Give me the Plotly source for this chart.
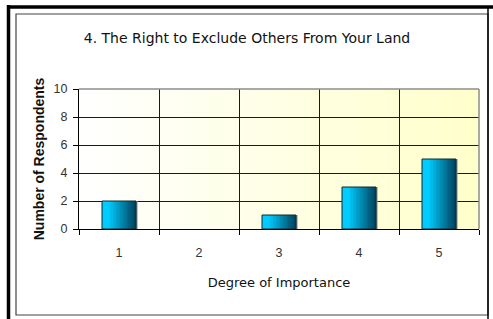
import plotly.graph_objects as go

categories = ["1", "2", "3", "4", "5"]
respondents = [2, 0, 1, 3, 5]
y_ticks = [0, 2, 4, 6, 8, 10]

title_text = "4. The Right to Exclude Others From Your Land"
x_title = "Degree of Importance"
y_title = "Number of Respondents"

W, H = 493, 319
L, R, T, B = 79, 479, 89, 229  # plot area in pixels


def px2x(px):
    return (px - L) / (R - L)


def py2y(py):
    return (B - py) / (B - T)


fig = go.Figure()

bar_vals = [v if v else None for v in respondents]

# shadow (gray, slightly offset right)
bar_w = 0.425
fig.add_trace(go.Bar(
    x=categories, y=bar_vals, width=bar_w, offset=-bar_w / 2 + 0.02,
    marker=dict(color="#9a9a9a", line=dict(width=0)),
    showlegend=False, hoverinfo="skip",
))

# bar with horizontal gradient built from thin overlaid slices
N = 24
sw = bar_w / N
c0 = (0, 204, 255)
c1 = (0, 66, 92)
for i in range(N):
    t = (i + 0.5) / N
    if t < 0.2:
        c = c0
    else:
        f = (t - 0.2) / 0.8
        c = tuple(round(c0[k] + (c1[k] - c0[k]) * f) for k in range(3))
    fig.add_trace(go.Bar(
        x=categories, y=bar_vals,
        width=sw * 1.15, offset=-bar_w / 2 + i * sw,
        marker=dict(color="rgb(%d,%d,%d)" % c, line=dict(width=0)),
        showlegend=False, hoverinfo="skip",
    ))
# outline
fig.add_trace(go.Bar(
    x=categories, y=bar_vals, width=bar_w, offset=-bar_w / 2,
    marker=dict(color="rgba(0,0,0,0)", line=dict(color="#0d2a33", width=1)),
    showlegend=False, hoverinfo="skip",
))

shapes = []
# background gradient (white -> light yellow)
NS = 60
for i in range(NS):
    f = (i + 0.5) / NS
    col = "rgb(255,255,%d)" % round(255 - 52 * f)
    shapes.append(dict(type="rect", xref="x domain", yref="y domain",
                       x0=i / NS, x1=(i + 1) / NS + 0.002, y0=0, y1=1,
                       fillcolor=col, line=dict(width=0), layer="below"))
# gray top/right border of plot area
shapes.append(dict(type="line", xref="x domain", yref="y domain", x0=0, x1=1, y0=1, y1=1,
                   line=dict(color="#8c8c8c", width=1.5)))
shapes.append(dict(type="line", xref="x domain", yref="y domain", x0=1, x1=1, y0=0, y1=1,
                   line=dict(color="#8c8c8c", width=1.5)))
# inner chart frame (gray left/top/bottom)
shapes.append(dict(type="rect", xref="paper", yref="paper",
                   x0=px2x(16), x1=px2x(488), y0=py2y(14), y1=py2y(315),
                   line=dict(color="#444444", width=1.2), fillcolor="rgba(0,0,0,0)"))
# black right edge of frame
shapes.append(dict(type="line", xref="paper", yref="paper",
                   x0=px2x(488), x1=px2x(488), y0=py2y(8), y1=py2y(330),
                   line=dict(color="#000000", width=1.5)))
# outer thick black frame (left and top)
shapes.append(dict(type="line", xref="paper", yref="paper",
                   x0=px2x(8.5), x1=px2x(8.5), y0=py2y(5), y1=py2y(330),
                   line=dict(color="#000000", width=3.5)))
shapes.append(dict(type="line", xref="paper", yref="paper",
                   x0=px2x(7), x1=px2x(500), y0=py2y(7), y1=py2y(7),
                   line=dict(color="#000000", width=3.5)))

fig.update_layout(
    width=W, height=H,
    margin=dict(l=L, r=W - R, t=T, b=H - B),
    paper_bgcolor="white",
    plot_bgcolor="rgba(0,0,0,0)",
    barmode="overlay",
    hovermode=False,
    shapes=shapes,
    title=dict(text=title_text, x=247 / W, xanchor="center", y=1 - 38 / H, yanchor="middle",
               font=dict(family="DejaVu Sans", size=14, color="#111111")),
    xaxis=dict(
        type="category", tickson="boundaries", range=[-0.5, 4.5],
        showgrid=True, gridcolor="#1a1a1a", gridwidth=1,
        showline=True, linecolor="#000000", linewidth=1.2,
        ticks="outside", ticklen=5, tickcolor="#000000",
        ticklabelstandoff=12,
        tickfont=dict(family="Liberation Sans", size=12.5, color="#333333"),
        title=dict(text=x_title, standoff=18,
                   font=dict(family="DejaVu Sans", size=13, color="#111111")),
    ),
    yaxis=dict(
        range=[0, 10], tickvals=y_ticks,
        showgrid=True, gridcolor="#1a1a1a", gridwidth=1,
        showline=True, linecolor="#000000", linewidth=1.2,
        ticks="outside", ticklen=5, tickcolor="#000000",
        ticklabelstandoff=3,
        tickfont=dict(family="Liberation Sans", size=12.5, color="#333333"),
        zeroline=False,
        title=dict(text="<b>" + y_title + "</b>", standoff=5,
                   font=dict(family="Liberation Sans", size=14, color="#111111")),
    ),
)

fig.write_html("out.html", config={"displayModeBar": False},
               post_script="document.body.style.margin='0';")
